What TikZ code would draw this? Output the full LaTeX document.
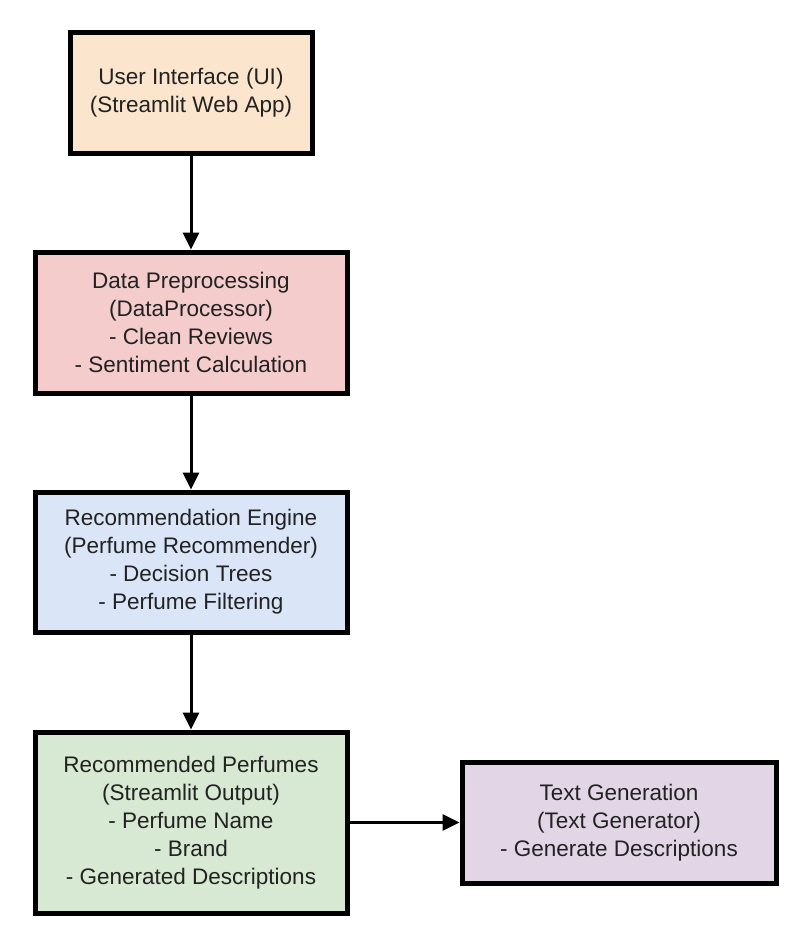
\documentclass[tikz,border=0pt]{standalone}
\usepackage{fontspec}
\setmainfont{Liberation Sans}
\usepackage{xcolor}
\usetikzlibrary{arrows.meta}
\usetikzlibrary{positioning}

\definecolor{uifill}{HTML}{FCE5CD}
\definecolor{prepfill}{HTML}{F4CCCC}
\definecolor{recfill}{HTML}{DAE6F8}
\definecolor{outfill}{HTML}{D7E8D3}
\definecolor{genfill}{HTML}{E2D6E6}
\definecolor{textgray}{HTML}{222222}

\begin{document}
\begin{tikzpicture}[x=1pt,y=-1pt]
			\useasboundingbox (0,0) rectangle (812,938);
			\begin{scope}[every node/.style={rectangle,draw=black,line width=5pt,align=center,inner sep=0pt,text=textgray,font=\fontsize{22.5}{28}\selectfont}]
				\node[fill=uifill,minimum width=242pt,minimum height=121pt] (ui) at (191,92.5) {User Interface (UI)\\(Streamlit Web App)};
				\node[fill=prepfill,minimum width=312pt,minimum height=141pt] (prep) at (191,322.5) {Data Preprocessing\\(DataProcessor)\\- Clean Reviews\\- Sentiment Calculation};
				\node[fill=recfill,minimum width=312pt,minimum height=140pt] (rec) at (191,562) {Recommendation Engine\\(Perfume Recommender)\\- Decision Trees\\- Perfume Filtering};
				\node[fill=outfill,minimum width=312pt,minimum height=181pt] (out) at (191,822.5) {Recommended Perfumes\\(Streamlit Output)\\- Perfume Name\\- Brand\\- Generated Descriptions};
				\node[fill=genfill,minimum width=314pt,minimum height=121pt] (gen) at (619,822.5) {Text Generation\\(Text Generator)\\- Generate Descriptions};
			\end{scope}
			\begin{scope}[every edge/.style={draw=black,line width=3pt,-{Triangle[length=17pt,width=16pt]}}]
				\path (ui) edge (prep);
				\path (prep) edge (rec);
				\path (rec) edge (out);
				\path (out) edge (gen);
			\end{scope}
\end{tikzpicture}
\end{document}
